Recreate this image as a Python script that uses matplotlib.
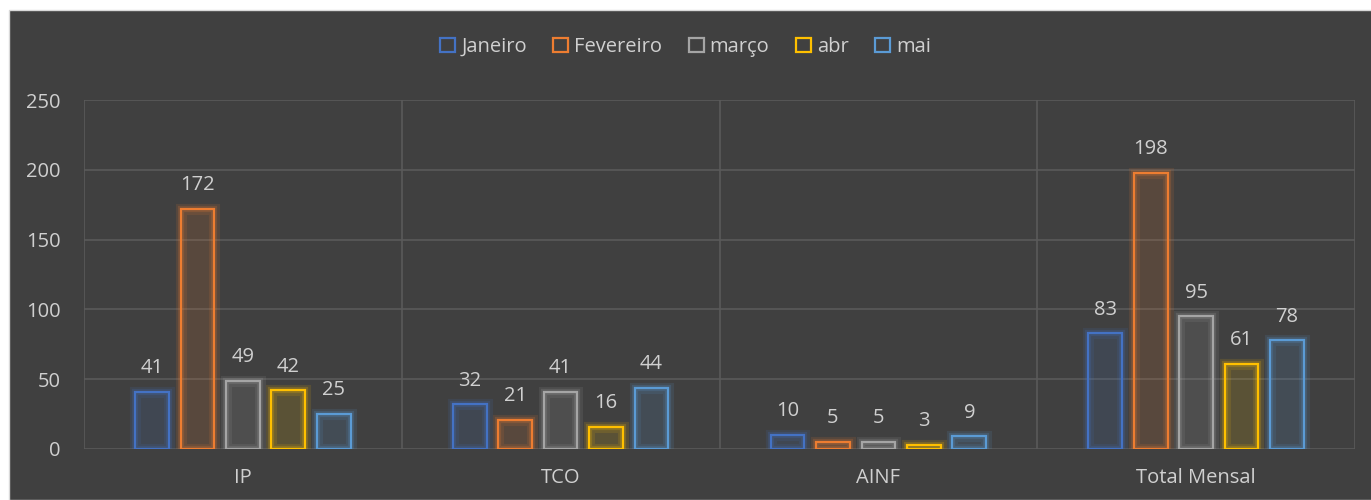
import numpy as np
import matplotlib.pyplot as plt
import matplotlib.patheffects as pe
from matplotlib.colors import to_rgb
from matplotlib.patches import Patch, Rectangle

categories = ["IP", "TCO", "AINF", "Total Mensal"]
months = ["Janeiro", "Fevereiro", "março", "abr", "mai"]
values = {
    "Janeiro": [41, 32, 10, 83],
    "Fevereiro": [172, 21, 5, 198],
    "março": [49, 41, 5, 95],
    "abr": [42, 16, 3, 61],
    "mai": [25, 44, 9, 78],
}
colors = ["#4472C4", "#ED7D31", "#A5A5A5", "#FFC000", "#5B9BD5"]
yticks = [0, 50, 100, 150, 200, 250]

bg = "#404040"
txt = "#d0d0d0"
grid = "#5a5a5a"

plt.rcParams['font.family'] = ['Open Sans', 'DejaVu Sans']

fig = plt.figure(figsize=(13.71, 5), dpi=100, facecolor="white")
fig.add_artist(Rectangle((9 / 1371, 0), 1, 1 - 10 / 500, transform=fig.transFigure,
                         facecolor=bg, edgecolor="#d9d9d9", linewidth=1, zorder=0))
ax = fig.add_axes([84 / 1371, 51 / 500, (1355 - 84) / 1371, 349 / 500])
ax.set_facecolor("none")

x = np.arange(len(categories))
step = 0.143
bw = 0.106
for i, (m, c) in enumerate(zip(months, colors)):
    pos = x + (i - 2) * step
    # faint inner tint
    ax.bar(pos, values[m], width=bw, facecolor=(*to_rgb(c), 0.14), edgecolor="none", zorder=2)
    # outline with soft glow
    ax.bar(pos, values[m], width=bw, facecolor="none", edgecolor=c, linewidth=1.6, zorder=3,
           path_effects=[pe.Stroke(linewidth=8, foreground=c, alpha=0.12),
                         pe.Stroke(linewidth=4.5, foreground=c, alpha=0.2),
                         pe.Normal()])
    for px, v in zip(pos, values[m]):
        ax.annotate(str(v), (px, v), xytext=(0, 17), textcoords="offset points",
                    ha="center", va="center", color=txt, fontsize=14.5)

ax.set_xlim(-0.5, len(categories) - 0.5)
ax.set_ylim(0, 250)
ax.set_yticks(yticks)
ax.set_xticks(x)
ax.set_xticklabels(categories)
ax.tick_params(axis="both", length=0, colors=txt, labelsize=14.5)
ax.tick_params(axis="x", pad=14)
ax.tick_params(axis="y", pad=17)
for s in ax.spines.values():
    s.set_visible(False)
ax.grid(axis="y", color=grid, linewidth=1.2, zorder=0)
for xv in np.arange(-0.5, len(categories), 1.0):
    ax.axvline(xv, color=grid, linewidth=1.2, zorder=0)

handles = [Patch(facecolor="none", edgecolor=c, linewidth=1.6, label=m) for m, c in zip(months, colors)]
fig.legend(handles=handles, loc="center", bbox_to_anchor=(0.5, 1 - 47 / 500), ncol=5,
           frameon=False, fontsize=14.5, labelcolor=txt, handlelength=0.75, handleheight=0.75,
           handletextpad=0.3, columnspacing=1.3)

fig.savefig("out.png", dpi=100, facecolor="white")
